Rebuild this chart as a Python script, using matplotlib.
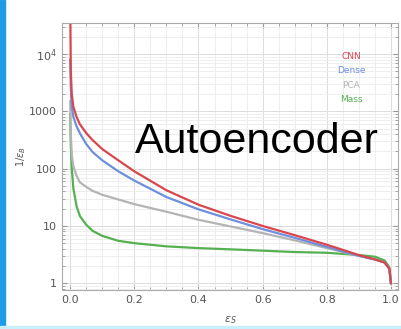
import numpy as np
import matplotlib
matplotlib.use('Agg')
import matplotlib.pyplot as plt
from matplotlib.patches import Rectangle
from matplotlib.ticker import LogLocator, MultipleLocator, FixedLocator

# signal efficiency grid and inverse background efficiency for each model
eps_s = [0.0, 0.002, 0.005, 0.01, 0.02, 0.03, 0.05, 0.07, 0.1, 0.15, 0.2,
         0.3, 0.4, 0.5, 0.6, 0.7, 0.8, 0.9, 0.95, 0.98, 0.995, 1.0]
cnn = [1e5, 5000, 2000, 1200, 800, 600, 420, 315, 220, 140, 90,
       42, 23.5, 15, 10, 6.9, 4.7, 3.1, 2.6, 2.3, 1.8, 1.0]
dense = [8000, 2500, 1200, 800, 550, 420, 270, 195, 140, 90, 62,
         32, 19.5, 13, 8.8, 6.2, 4.3, 3.0, 2.6, 2.3, 1.8, 1.0]
pca = [1500, 400, 170, 110, 75, 58, 48, 41, 35, 29, 24,
       17.7, 12.8, 9.8, 7.5, 5.6, 4.1, 3.0, 2.6, 2.3, 1.8, 1.0]
mass = [900, 250, 100, 45, 22, 15, 10.5, 8.2, 6.7, 5.5, 5.0,
        4.4, 4.1, 3.9, 3.7, 3.5, 3.4, 3.1, 2.9, 2.5, 1.9, 1.0]

names = ['CNN', 'Dense', 'PCA', 'Mass']
colors = ['#d9464c', '#6e8fdc', '#b4b4b4', '#55b050']

fig = plt.figure(figsize=(4.01, 3.29), dpi=100)
fig.patch.set_facecolor('white')
fig.patches.append(Rectangle((0, 0), 5 / 401, 1, transform=fig.transFigure,
                             color='#1e9be6', zorder=0))
fig.patches.append(Rectangle((0, 0), 1, 3 / 329, transform=fig.transFigure,
                             color='#c8f0ff', zorder=0))

ax = fig.add_axes([0.155, 0.1185, 0.8375, 0.8115])
ax.set_yscale('log')
ax.set_xlim(-0.025, 1.022)
ax.set_ylim(0.76, 3.5e4)

ax.xaxis.set_minor_locator(MultipleLocator(0.05))
ax.yaxis.set_minor_locator(LogLocator(base=10, subs=np.arange(2, 10)))
ax.set_xticks([0, 0.2, 0.4, 0.6, 0.8, 1.0])
ax.set_xticklabels(['0.0', '0.2', '0.4', '0.6', '0.8', '1.0'])
ax.set_yticks([1, 10, 100, 1000, 1e4])
ax.set_yticklabels(['1', '10', '100', '1000', r'10$^4$'])
ax.set_xticklabels([], minor=True)
ax.set_yticklabels([], minor=True)

ax.grid(True, which='major', color='#dcdcdc', lw=0.7)
ax.grid(True, which='minor', color='#ebebeb', lw=0.6)
ax.tick_params(which='both', direction='in', colors='#999999',
               labelcolor='#555555', labelsize=8, top=True, right=True)
ax.tick_params(which='major', length=3.5)
ax.tick_params(which='minor', length=2)
for s in ax.spines.values():
    s.set_color('#aaaaaa')
    s.set_linewidth(0.8)

for ys, c in zip([mass, pca, dense, cnn], colors[::-1]):
    ax.plot(eps_s, ys, color=c, lw=1.6)

for i, (n, c) in enumerate(zip(names, colors)):
    ax.text(0.86, 0.875 - i * 0.054, n, transform=ax.transAxes, color=c,
            fontsize=6.5, ha='center', va='center')

ax.text(0.58, 0.555, 'Autoencoder', transform=ax.transAxes,
        fontsize=31, family='Liberation Sans', color='black',
        ha='center', va='center')

ax.set_xlabel(r'$\epsilon_S$', fontsize=8, color='#555555', labelpad=7)
ax.set_ylabel(r'1/$\epsilon_B$', fontsize=7, color='#555555', labelpad=1)

fig.savefig('out.png', dpi=100)
